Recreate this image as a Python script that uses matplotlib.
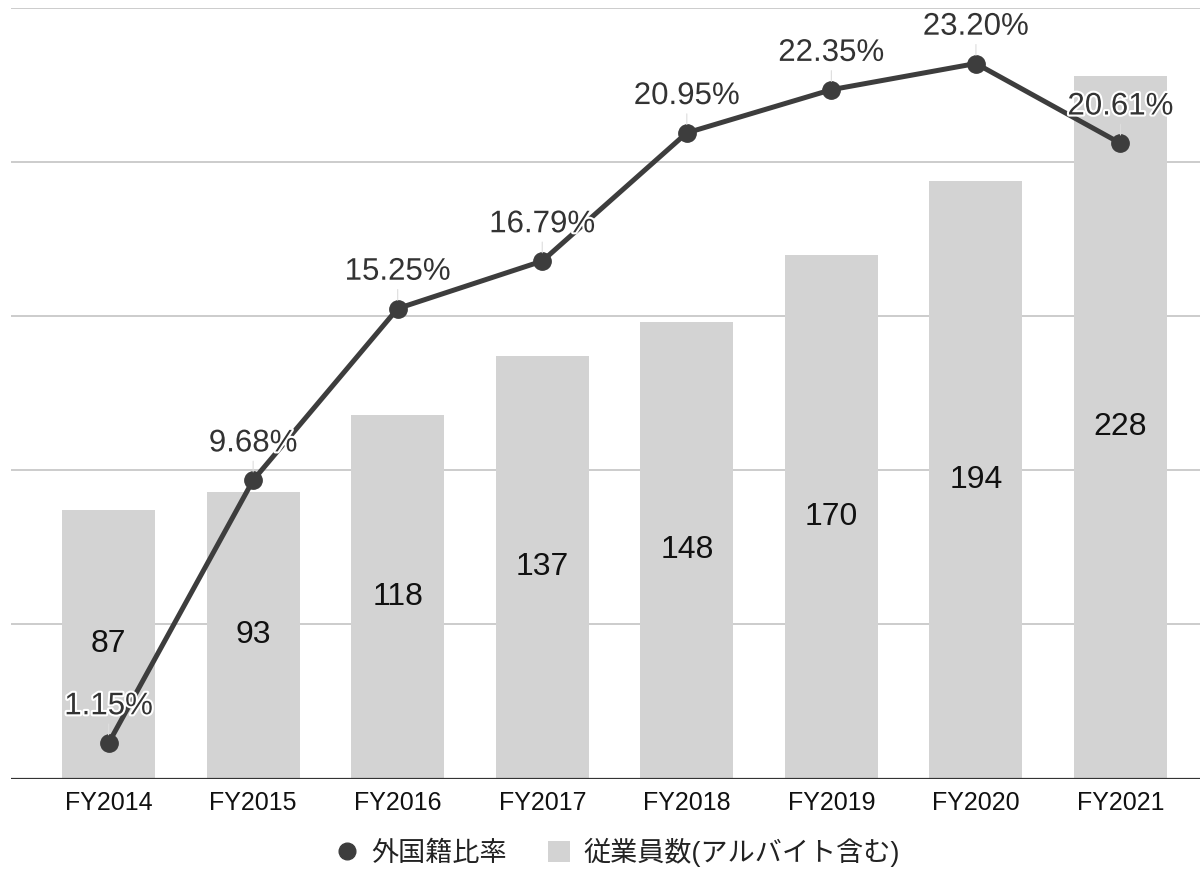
import matplotlib
matplotlib.use("Agg")
import matplotlib.pyplot as plt
import matplotlib.patheffects as pe
from matplotlib.lines import Line2D
from matplotlib.patches import Patch

plt.rcParams['font.family'] = ['Liberation Sans', 'Noto Sans CJK JP', 'DejaVu Sans']

categories = ["FY2014", "FY2015", "FY2016", "FY2017", "FY2018", "FY2019", "FY2020", "FY2021"]
employees = [87, 93, 118, 137, 148, 170, 194, 228]
foreign_ratio = [1.15, 9.68, 15.25, 16.79, 20.95, 22.35, 23.20, 20.61]
ratio_labels = ["1.15%", "9.68%", "15.25%", "16.79%", "20.95%", "22.35%", "23.20%", "20.61%"]
bar_name = "従業員数(アルバイト含む)"
line_name = "外国籍比率"

BAR_COLOR = "#d3d3d3"
LINE_COLOR = "#3d3d3d"

fig = plt.figure(figsize=(12, 8.73), dpi=100)
ax = fig.add_axes([0.00917, 0.1082, 0.99083, 0.8826])
x = list(range(len(categories)))

ax.bar(x, employees, width=0.644, color=BAR_COLOR, zorder=2)
ax.set_ylim(0, 250)
ax.set_xlim(-0.675, 7.55)
for gy in [50, 100, 150, 200, 250]:
    ax.axhline(gy, color="#cccccc", lw=1.4, zorder=1)
ax.axhline(0, color="#333333", lw=1.6, zorder=3)
for xi, v in zip(x, employees):
    ax.text(xi, v / 2, str(v), ha="center", va="center", fontsize=23, color="#111111", zorder=4)

ax.set_xticks(x)
ax.set_xticklabels(categories, fontsize=18, color="#111111")
ax.tick_params(axis="x", length=0, pad=9)
ax.set_yticks([])
for s in ax.spines.values():
    s.set_visible(False)

ax2 = ax.twinx()
ax2.set_ylim(0, 25)
ax2.set_yticks([])
for s in ax2.spines.values():
    s.set_visible(False)
ax2.plot(x, foreign_ratio, color=LINE_COLOR, lw=3.6, marker="o", markersize=12.5, zorder=5)
for xi, v, lab in zip(x, foreign_ratio, ratio_labels):
    ax2.annotate(lab, (xi, v), xytext=(0, 26.5), textcoords="offset points",
                 ha="center", va="center", fontsize=22.5, color="#333333", zorder=6,
                 path_effects=[pe.withStroke(linewidth=3, foreground="white")],
                 arrowprops=dict(arrowstyle="-", color="#dddddd", lw=0.8, shrinkA=0, shrinkB=6))

handles = [Line2D([0], [0], color=LINE_COLOR, marker="o", linestyle="none", markersize=12),
           Patch(facecolor=BAR_COLOR, edgecolor="none")]
fig.legend(handles, [line_name, bar_name], loc="center", bbox_to_anchor=(0.515, 0.024), ncol=2,
           frameon=False, fontsize=19.5, handlelength=0.8, handleheight=0.8, handletextpad=0.5,
           columnspacing=1.5, labelcolor="#222222")

fig.savefig("out.png", dpi=100)
